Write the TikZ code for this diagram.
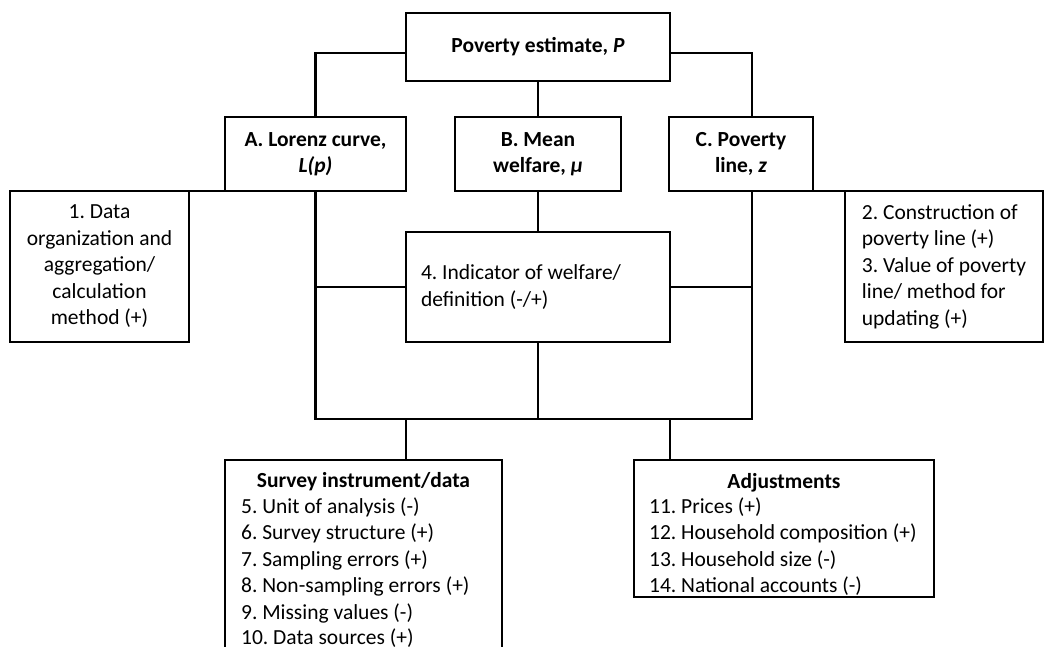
\documentclass[tikz,border=0pt]{standalone}
\usepackage{fontspec}
\setmainfont{Carlito}
\frenchspacing
\usetikzlibrary{calc}

\begin{document}
\begin{tikzpicture}[x=1pt,y=-1pt,line width=2.2pt,
  every node/.style={font=\fontsize{21.5}{26.5}\selectfont},
  box/.style={draw,line width=2.2pt,inner sep=0pt,outer sep=0pt,align=center},
  head/.style={box,font=\fontsize{21.5}{26.5}\selectfont\bfseries},
  item/.style={anchor=base west,inner sep=0pt}]
  \useasboundingbox (0,0) rectangle (1047,647);
  \clip (0,0) rectangle (1047,647);

  % Estimate and its three components
  \node[head,minimum width=264pt,minimum height=68pt] (P) at (538,47)
    {Poverty estimate, \textit{P}};
  \node[head,minimum width=181pt,minimum height=74pt] (A) at (315.5,154)
    {A. Lorenz curve,\\\textit{L(p)}};
  \node[head,minimum width=166pt,minimum height=74pt] (B) at (538,154)
    {B. Mean\\welfare, \textit{μ}};
  \node[head,minimum width=144pt,minimum height=74pt] (C) at (741,154)
    {C. Poverty\\line, \textit{z}};

  % Side boxes, top edges level with the component boxes
  \node[box,minimum width=179pt,minimum height=151pt] (D1) at (99.5,266.5)
    {1. Data\\organization and\\aggregation/\\calculation\\method (+)};
  \node[box,align=flush left,minimum width=198pt,minimum height=151pt] (D2) at (944,266.5)
    {2. Construction of\\poverty line (+)\\3. Value of poverty\\line/ method for\\updating (+)};
  \node[box,align=flush left,text width=234pt,inner xsep=15pt,minimum height=110pt] (Ind) at (538,287)
    {4. Indicator of welfare/\\definition (-/+)};

  % Survey instrument/data (runs off the bottom)
  \node[box,minimum width=277pt,minimum height=220pt] (S) at (363.5,570) {};
  \node[anchor=base,inner sep=0pt,font=\fontsize{21.5}{26.5}\selectfont\bfseries] (St) at (363.5,487)
    {Survey instrument/data};
  \node[item] (s5) at (240,513) {5. Unit of analysis (-)};
  \node[item] (s6) at (240,539.5) {6. Survey structure (+)};
  \node[item] (s7) at (240,566) {7. Sampling errors (+)};
  \node[item] (s8) at (240,592.5) {8. Non-sampling errors (+)};
  \node[item] (s9) at (240,619) {9. Missing values (-)};
  \node[item] (s10) at (240,644.5) {10. Data sources (+)};

  % Adjustments
  \node[box,minimum width=300pt,minimum height=137pt] (Adj) at (784,528.5) {};
  \node[anchor=base,inner sep=0pt,font=\fontsize{21.5}{26.5}\selectfont\bfseries] (At) at (784,488)
    {Adjustments};
  \node[item] (a11) at (648,513) {11. Prices (+)};
  \node[item] (a12) at (648,539.5) {12. Household composition (+)};
  \node[item] (a13) at (648,566) {13. Household size (-)};
  \node[item] (a14) at (648,592.5) {14. National accounts (-)};

  % Connectors
  \coordinate (busL) at (315.5,419);
  \coordinate (busR) at (752,419);
  \draw ([yshift=-6pt]P.west) -| (A.north);
  \draw ([yshift=-6pt]P.east) -| ([xshift=11pt]C.north);
  \draw (P.south) -- (B.north);
  \draw (B.south) -- (Ind.north);
  \draw (A.south) -- (busL) -- (busR) -- ([xshift=11pt]C.south);
  \draw (Ind.west) -- (Ind.west -| busL);
  \draw (Ind.east) -- (Ind.east -| busR);
  \draw (Ind.south) -- (Ind.south |- busL);
  \draw (Ind.west |- busL) -- (Ind.west |- S.north);
  \draw (Ind.east |- busL) -- (Ind.east |- Adj.north);
  \draw (D1.north east) -- (A.south west);
  \draw (C.south east) -- (D2.north west);
\end{tikzpicture}
\end{document}
